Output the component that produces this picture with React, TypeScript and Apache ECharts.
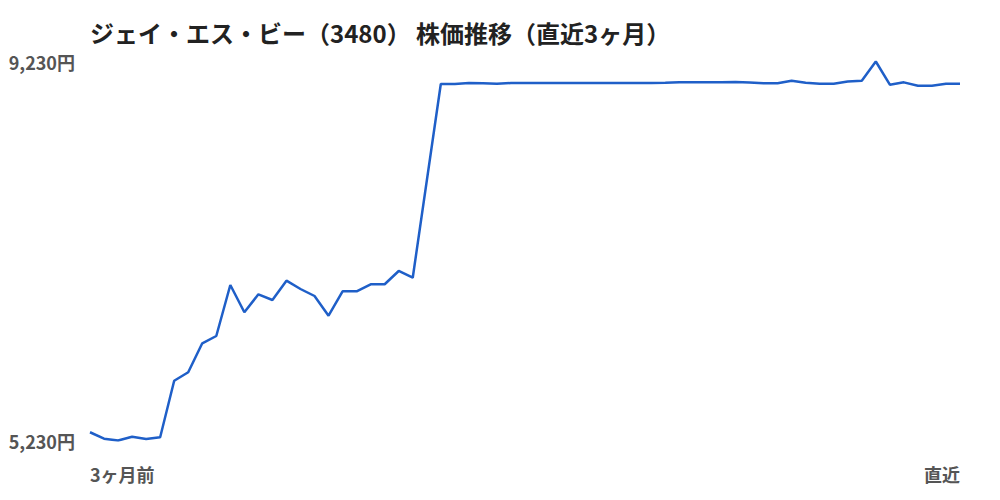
import React, { useEffect, useRef } from 'react';
import * as echarts from 'echarts';

// 直近3ヶ月の終値（円）。null の日は前後を直線で結ぶ
const prices: (number | null)[] = [
  5317, 5249, 5230, 5270, 5246, 5264, 5861, 5950, 6256, 6333,
  6871, 6583, 6773, 6713, 6917, 6829, 6755, 6547, 6805, 6805,
  6879, 6879, 7019, 6948, null, 8993, 8993, 9003, 9000, 8995,
  9003, 9003, 9003, 9003, 9003, 9003, 9003, 9003, 9003, 9003,
  9003, 9006, 9010, 9010, 9010, 9010, 9014, 9008, 9000, 9000,
  9027, 9006, 8996, 8996, 9019, 9027, 9230, 8985, 9010, 8975,
  8975, 8996, 8996,
];
const days = prices.map((_, i) => String(i));
const xTickLabels = ['3ヶ月前', '直近'];
const yTicks = [5230, 9230];
const title = 'ジェイ・エス・ビー（3480） 株価推移（直近3ヶ月）';

const FONT = '"Noto Sans CJK JP", "Noto Sans", sans-serif';

const App: React.FC = () => {
  const chartRef = useRef<HTMLDivElement>(null);

  useEffect(() => {
    if (!chartRef.current) return;
    const chart = echarts.init(chartRef.current, undefined, { renderer: 'svg' });
    const last = days.length - 1;

    chart.setOption({
      animation: false,
      backgroundColor: '#fff',
      title: {
        text: title,
        left: 90,
        top: 20,
        padding: 0,
        textStyle: { fontFamily: FONT, fontSize: 24, fontWeight: 'bold', color: '#222' },
      },
      grid: { left: 90, right: 40, top: 61.5, bottom: 59.5 },
      xAxis: {
        type: 'category',
        data: days,
        boundaryGap: false,
        axisLine: { show: false },
        axisTick: { show: false },
        splitLine: { show: false },
        axisLabel: {
          interval: (i: number) => i === 0 || i === last,
          formatter: (_v: string, i: number) => (i === 0 ? xTickLabels[0] : xTickLabels[1]),
          alignMinLabel: 'left',
          alignMaxLabel: 'right',
          margin: 24,
          fontFamily: FONT,
          fontSize: 18,
          fontWeight: 'bold',
          color: '#555',
        },
      },
      yAxis: {
        type: 'value',
        min: yTicks[0],
        max: yTicks[1],
        axisLine: { show: false },
        axisTick: { show: false },
        splitLine: { show: false },
        axisLabel: {
          showMinLabel: true,
          showMaxLabel: true,
          formatter: (v: number) => (yTicks.includes(v) ? v.toLocaleString('en-US') + '円' : ''),
          margin: 15,
          fontFamily: FONT,
          fontSize: 18,
          fontWeight: 'bold',
          color: '#555',
        },
      },
      series: [
        {
          type: 'line',
          data: prices,
          connectNulls: true,
          showSymbol: false,
          symbol: 'none',
          lineStyle: { color: '#1f5fc8', width: 2.5 },
        },
      ],
    });

    return () => chart.dispose();
  }, []);

  return (
    <div
      ref={chartRef}
      style={{ position: 'fixed', left: 0, top: 0, width: 1000, height: 500 }}
    />
  );
};

export default App;
